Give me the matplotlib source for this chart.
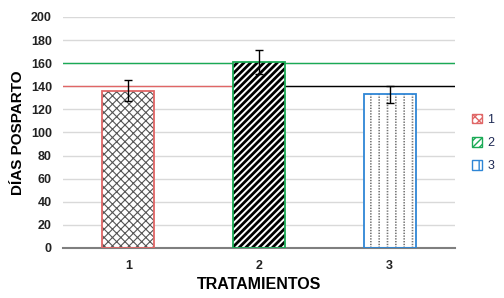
import numpy as np
import matplotlib.pyplot as plt
from matplotlib.patches import Patch

plt.rcParams['font.family'] = ['Liberation Sans', 'DejaVu Sans']

# datos
tratamientos = ['1', '2', '3']
dias = [136, 161, 133]
error = [9, 10, 7.5]
lineas = [140, 160, 140]  # referencias horizontales
bordes = ['#e06666', '#1aaa55', '#2e86d6']
tramas = ['xxxx', '/////', '||']
color_trama = ['#555555', 'black', '#777777']
grosor_trama = [0.8, 2.0, 1.2]

x = np.arange(1, len(tratamientos) + 1)
ancho = 0.4

fig = plt.figure(figsize=(5.04, 2.98), dpi=100)
ax = fig.add_axes([0.125, 0.168, 0.778, 0.775])

ax.set_ylim(0, 200)
ax.set_xlim(0.5, 3.5)
ax.set_yticks(np.arange(0, 201, 20))
ax.yaxis.grid(True, color='#d9d9d9', linewidth=1)
ax.set_axisbelow(True)

# lineas de referencia
ax.plot([0.5, x[1] - ancho / 2], [lineas[0]] * 2, color=bordes[0], lw=1, zorder=1.5)
ax.axhline(lineas[1], color=bordes[1], lw=1, zorder=1.5)
ax.plot([x[1] + ancho / 2, 3.5], [lineas[2]] * 2, color='black', lw=1, zorder=1.5)


def barra_trama(xi, yi, trama, color, grosor, fondo, z):
    with plt.rc_context({'hatch.linewidth': grosor}):
        b = ax.bar(xi, yi, width=ancho, color=fondo, hatch=trama,
                   edgecolor=color, linewidth=0, zorder=z)
        for p in b:
            if hasattr(p, 'set_hatch_linewidth'):
                p.set_hatch_linewidth(grosor)


for i in range(len(x)):
    barra_trama(x[i], dias[i], tramas[i], color_trama[i], grosor_trama[i], 'white', 2)
    if i == 2:
        # cortes blancos para que las lineas se vean punteadas
        barra_trama(x[i], dias[i], '------', 'white', 1.0, 'none', 2.1)
    ax.bar(x[i], dias[i], width=ancho, fill=False, edgecolor=bordes[i],
           linewidth=1.3, zorder=3)

ax.errorbar(x, dias, yerr=error, fmt='none', ecolor='black', elinewidth=1,
            capsize=3, capthick=1, zorder=4)

for s in ['top', 'right', 'left']:
    ax.spines[s].set_visible(False)
ax.spines['bottom'].set_color('#7f7f7f')
ax.spines['bottom'].set_linewidth(1.5)
ax.tick_params(length=0)
ax.tick_params(axis='y', pad=8)
ax.tick_params(axis='x', pad=9)
ax.set_xticks(x)
ax.set_xticklabels(tratamientos)
for t in ax.get_xticklabels() + ax.get_yticklabels():
    t.set_fontweight('bold')
    t.set_fontsize(9)
    t.set_color('#222222')

ax.set_xlabel('TRATAMIENTOS', fontsize=11.5, fontweight='bold', labelpad=3)
ax.set_ylabel('DÍAS POSPARTO', fontsize=11, fontweight='bold', labelpad=4)

handles = [Patch(facecolor='white', edgecolor=bordes[i], hatch=tramas[i], label=tratamientos[i])
           for i in range(len(x))]
fig.legend(handles=handles, loc='center left', bbox_to_anchor=(0.915, 0.52),
           frameon=False, fontsize=9, handlelength=0.8, handleheight=0.8,
           handletextpad=0.4, labelspacing=0.9, labelcolor='#1f2a55')

fig.savefig('out.png', dpi=100)
